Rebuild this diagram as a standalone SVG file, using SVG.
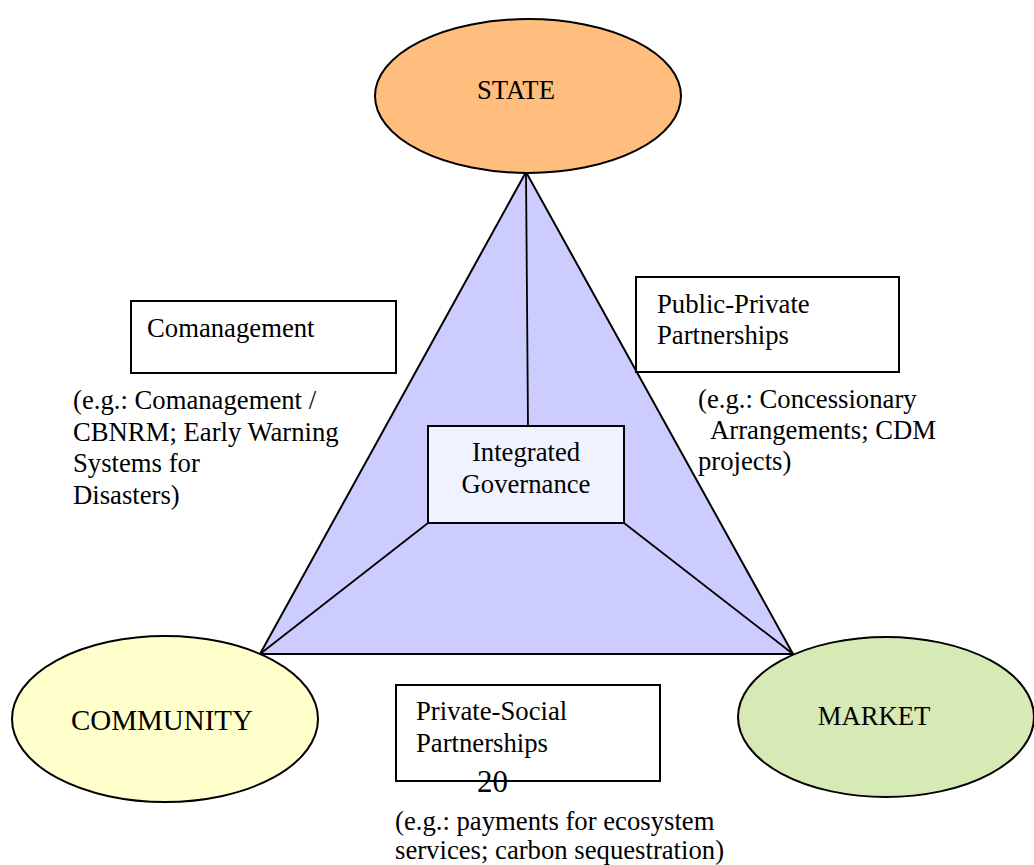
<svg xmlns="http://www.w3.org/2000/svg" width="1034" height="865" viewBox="0 0 1034 865">
<style>
text{font-family:"Liberation Serif","Times New Roman",serif;fill:#000;font-size:26.7px}
.box{fill:#fff;stroke:#000;stroke-width:2}
.ln{stroke:#000;stroke-width:1.8;fill:none}
</style>
<rect width="1034" height="865" fill="#fff"/>
<g id="triangle">
<polygon points="526,172 260,654 793,654" fill="#CCCCFF" stroke="#000" stroke-width="2" stroke-linejoin="miter"/>
</g>
<g id="connectors">
<line class="ln" x1="526" y1="172" x2="528" y2="426"/>
<line class="ln" x1="428" y1="523" x2="260" y2="654"/>
<line class="ln" x1="624" y1="523" x2="793" y2="654"/>
</g>
<g id="state">
<ellipse cx="528" cy="96" rx="153" ry="77" fill="#FFBE7D" stroke="#000" stroke-width="2"/>
<text x="516" y="99" text-anchor="middle">STATE</text>
</g>
<g id="community">
<ellipse cx="165" cy="719" rx="153" ry="83" fill="#FFFFCC" stroke="#000" stroke-width="2"/>
<text x="162" y="730" text-anchor="middle" style="font-size:29px">COMMUNITY</text>
</g>
<g id="market">
<ellipse cx="886" cy="717" rx="148" ry="80" fill="#D7E9B4" stroke="#000" stroke-width="2"/>
<text x="874" y="725" text-anchor="middle">MARKET</text>
</g>
<g id="integrated">
<rect x="428" y="426" width="196" height="97" fill="#F0F3FF" stroke="#000" stroke-width="2"/>
<text x="526" y="461" text-anchor="middle">Integrated</text>
<text x="526" y="493" text-anchor="middle">Governance</text>
</g>
<g id="comanagement">
<rect class="box" x="131" y="301" width="265" height="72"/>
<text x="147" y="337">Comanagement</text>
<text x="73" y="409">(e.g.: Comanagement /</text>
<text x="73" y="441">CBNRM; Early Warning</text>
<text x="73" y="472">Systems for</text>
<text x="73" y="504">Disasters)</text>
</g>
<g id="ppp">
<rect class="box" x="636" y="277" width="263" height="95"/>
<text x="657" y="313">Public-Private</text>
<text x="657" y="344">Partnerships</text>
<text x="698" y="408">(e.g.: Concessionary</text>
<text x="710" y="439">Arrangements; CDM</text>
<text x="698" y="470">projects)</text>
</g>
<g id="psp">
<rect class="box" x="396" y="685" width="264" height="96"/>
<text x="416" y="720">Private-Social</text>
<text x="416" y="752">Partnerships</text>
<text x="477" y="792" style="font-size:31px">20</text>
<text x="395" y="830">(e.g.: payments for ecosystem</text>
<text x="395" y="859">services; carbon sequestration)</text>
</g>
</svg>
